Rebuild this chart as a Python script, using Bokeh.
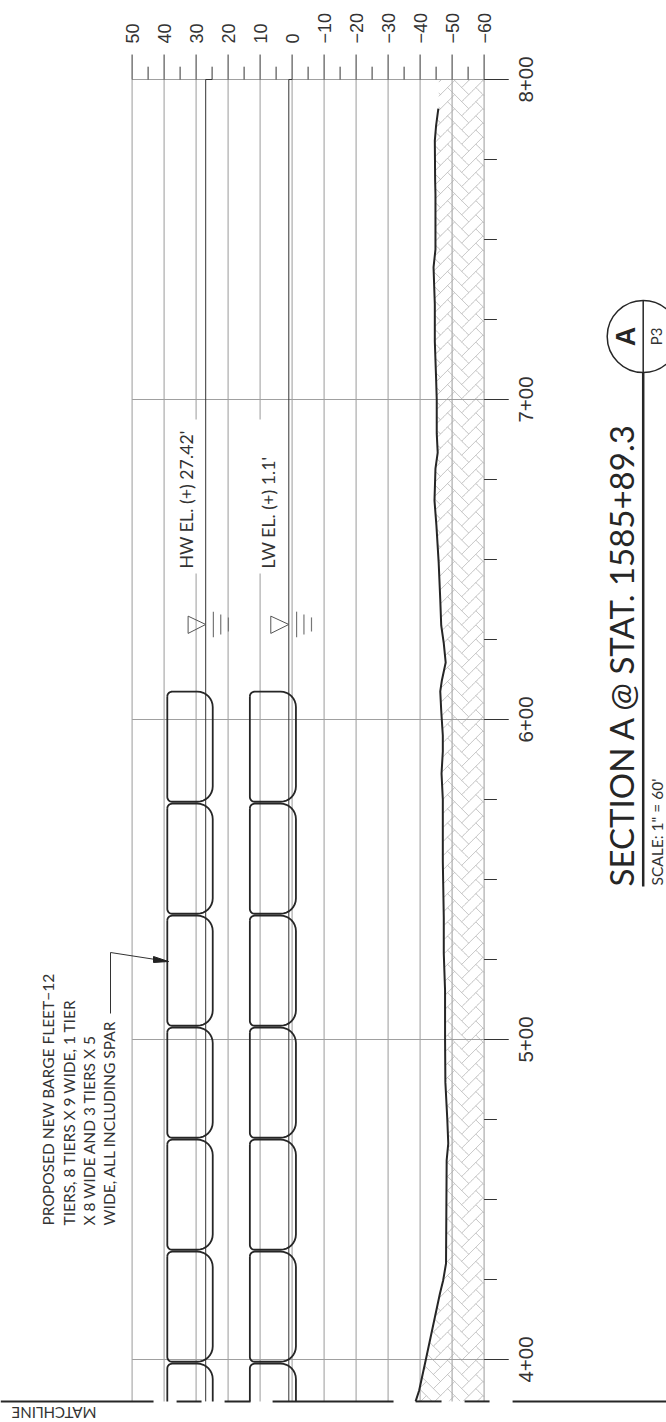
import numpy as np
from bokeh.plotting import figure
from bokeh.embed import file_html
from bokeh.resources import INLINE
from bokeh.core.properties import value

# ---- data (elevation ft, station ft) ----
elev_major = [50, 40, 30, 20, 10, 0, -10, -20, -30, -40, -50, -60]
elev_minor = [45, 35, 25, 15, 5, -5, -15, -25, -35, -45, -55]
elev_labels = ["50", "40", "30", "20", "10", "0", "\u221210", "\u221220", "\u221230", "\u221240", "\u221250", "\u221260"]
sta_major = [800, 700, 600, 500, 400]
sta_labels = ["8+00", "7+00", "6+00", "5+00", "4+00"]
sta_minor = [775, 750, 725, 675, 650, 625, 575, 550, 525, 475, 450, 425]
sta_top = 800
sta_bottom = 386.9
HW_el = 27.0
LW_el = 1.03
ground_sta = [790.9, 785.6, 780.9, 768.4, 764.1, 746.9, 741.3, 729.7, 718.1, 706.6, 700, 689.4, 683.4, 678.4, 668.4,
              660.6, 649.1, 637.5, 629.4, 623.8, 617.8, 612.2, 608.8, 602.8, 595, 590, 583.1, 575, 555.6, 538.1,
              526.9, 515.3, 500, 486.6, 475, 467.5, 462.2, 430, 424.7, 420.6, 413.1, 400, 390.3, 386.9]
ground_el = [-45.7, -45.0, -44.6, -44.7, -44.8, -44.8, -44.2, -44.6, -44.6, -45.0, -45.2, -45.2, -45.5, -44.8, -44.5,
             -45.1, -45.8, -46.3, -46.6, -47.4, -48.0, -46.8, -46.3, -46.6, -47.1, -47.1, -46.7, -47.1, -47.1, -47.4,
             -47.4, -47.8, -47.8, -47.9, -48.5, -48.8, -48.3, -48.1, -47.2, -46.2, -44.6, -41.8, -39.7, -38.6]
barge_sta = [608.7, 573.7, 538.7, 503.7, 468.7, 433.7, 398.7]
barge_len = 34.4
barge_rows = [(39.0, 24.8), (13.2, -1.2)]
break_from = [91.1, 36.1, 21.1, 6.1, -38.6, -53.9, -68.9]
break_to = [43.3, 28.3, 13.0, -31.7, -46.7, -61.7, -117.0]
note_lines = ["PROPOSED NEW BARGE FLEET\u221212", "TIERS, 8 TIERS X 9 WIDE, 1 TIER", "X 8 WIDE AND 3 TIERS X 5", "WIDE, ALL INCLUDING SPAR"]
note_el = [76.2, 69.8, 63.5, 57.2]

INK = "#262626"
GRID = "#ababab"
TXT = "#333333"
NARROW = value("Lato")
W, H = 666, 1422
PX = 3.2
x0 = 291.6
y0 = 79.0
p = figure(width=W, height=H, output_backend="svg", toolbar_location=None,
           x_range=(x0 / PX, (x0 - W) / PX), y_range=(800 - (H - y0) / PX, 800 + y0 / PX),
           min_border=0, min_border_left=0, min_border_right=0, min_border_top=0, min_border_bottom=0)
p.axis.visible = False
p.grid.visible = False
p.outline_line_color = None
p.background_fill_color = "white"
p.border_fill_color = "white"


def sy(py):
    return 800 - (py - y0) / PX


def ex(px):
    return (x0 - px) / PX


# hatch (herringbone texture, clipped to the ground)
u = 2.5 / PX
c = np.sqrt(0.5)
OX, OY = 53.0, 413.0
gs = np.array(ground_sta[::-1]); ge = np.array(ground_el[::-1])


def inside(X, Y):
    return (X <= 60) & (Y >= sta_bottom) & (Y <= sta_top) & (X >= -np.interp(Y, gs, ge))


hx, hy = [], []
for d, n, base, sgn in (((c, c), (-c, c), (0.0, 0.0), 1), ((-c, c), (-c, -c), (2.83 * u, 2.83 * u), -1)):
    d = np.array(d); n = np.array(n)
    for i in range(-200, 200):
        for j in range(-120, 120):
            s = np.array([OX, OY]) + np.array(base) + i * 4 * u * (d + sgn * n) + j * 16 * u * d
            if not (25 < s[0] < 75 and 370 < s[1] < 815):
                continue
            t = np.linspace(0, 12 * u, 40)
            X = s[0] + d[0] * t
            Y = s[1] + d[1] * t
            ok = inside(X, Y)
            if ok.sum() < 2:
                continue
            idx = np.where(ok)[0]
            hx.append(list(-X[idx])); hy.append(list(Y[idx]))
p.multi_line(hx, hy, line_color="#b9b9b9", line_width=1)

# grid
for e in elev_major:
    if e in (30, 10):
        p.segment([e, e], [sta_top, sy(573)], [e, e], [sy(419), sta_bottom], line_color=GRID, line_width=1.2)
    else:
        p.segment([e], [sta_top], [e], [sta_bottom], line_color=GRID, line_width=1.2)
p.segment([50] * 5, sta_major, [-60] * 5, sta_major, line_color="#a0a0a0", line_width=1)

# ticks
p.segment(elev_major, [sta_top] * 12, elev_major, [sta_top + 7.8] * 12, line_color=TXT, line_width=1)
p.segment(elev_minor, [sta_top] * 11, elev_minor, [sta_top + 4] * 11, line_color=TXT, line_width=1)
p.segment([-60] * 5, sta_major, [-67.7] * 5, sta_major, line_color=TXT, line_width=1)
p.segment([-60] * 12, sta_minor, [-64] * 12, sta_minor, line_color=TXT, line_width=1)
p.text(elev_major, [sy(43)] * 12, text=elev_labels, angle=np.pi / 2, text_align="left", text_baseline="middle",
       text_font=value("Liberation Sans"), text_font_size="18px", text_color=TXT)
p.text([ex(525.5)] * 5, sta_major, text=sta_labels, angle=np.pi / 2, text_align="center", text_baseline="middle",
       text_font=value("Liberation Sans"), text_font_size="20.5px", text_color=TXT)

# water lines
p.line([25, HW_el, HW_el], [sta_top, sta_top, sta_bottom], line_color=TXT, line_width=1)
p.line([0, LW_el, LW_el], [sta_top, sta_top, sta_bottom], line_color=TXT, line_width=1)
for lvl, base_el, marks in ((HW_el, 32.5, (24.6, 22.3, 19.9)), (LW_el, 6.66, (-1.4, -3.7, -6.06))):
    p.line([lvl, base_el, base_el, lvl], [629.7, 632.3, 626.9, 629.7], line_color="#555555", line_width=1)
    for mk, hl in zip(marks, (4.0, 3.1, 2.2)):
        p.segment([mk], [629.7 - hl], [mk], [629.7 + hl], line_color="#777777", line_width=1.2)
p.text([ex(185.5)], [sy(568)], text=["HW EL. (+) 27.42'"], angle=np.pi / 2, text_align="left", text_baseline="middle",
       text_font=NARROW, text_font_size="17.8px", text_color=TXT)
p.text([ex(267.8)], [sy(568)], text=["LW EL. (+) 1.1'"], angle=np.pi / 2, text_align="left", text_baseline="middle",
       text_font=NARROW, text_font_size="17.8px", text_color=TXT)

# barges
rs, rb = 1.5, 4.8
th = np.linspace(0, np.pi / 2, 9)
for hi, lo in barge_rows:
    for s in barge_sta:
        e = s - barge_len
        top_x = list(hi - rs + rs * np.cos(th)) + list(lo + rb - rb * np.sin(th))
        top_y = list(s - rs + rs * np.sin(th)) + list(s - rb + rb * np.cos(th))
        if e < sta_bottom:
            path_x = [hi] + top_x + [lo]
            path_y = [sta_bottom] + top_y + [sta_bottom]
        else:
            low_x = list(lo + rb - rb * np.cos(th)) + list(hi - rs + rs * np.sin(th))
            low_y = list(e + rb - rb * np.sin(th)) + list(e + rs - rs * np.cos(th))
            path_x = top_x + low_x + [top_x[0]]
            path_y = top_y + low_y + [top_y[0]]
        p.line(path_x, path_y, line_color=INK, line_width=1.8)

# ground
p.line(ground_el, ground_sta, line_color=INK, line_width=2)

# cut line
p.segment(break_from, [sta_bottom] * 7, break_to, [sta_bottom] * 7, line_color=INK, line_width=2)
p.text([ex(96)], [sy(1412.5)], text=["MATCHLINE"], angle=np.pi, text_align="left", text_baseline="middle",
       text_font=NARROW, text_font_size="15px", text_color=TXT)

# note
p.text(note_el, [sy(1225)] * 4, text=note_lines, angle=np.pi / 2, text_align="left", text_baseline="middle",
       text_font=NARROW, text_font_size="15.5px", text_color=TXT)
p.line([ex(110), ex(110), ex(168)], [sy(1013), sy(952), sy(961)], line_color=TXT, line_width=1)
p.patch([ex(168), ex(153), ex(153)], [sy(961), sy(956), sy(962)], color="#222222")

# title block
p.segment([ex(642.7)], [sy(886)], [ex(642.7)], [sy(372)], line_color=INK, line_width=2.5)
p.text([ex(620.5)], [sy(886)], text=["SECTION A @ STAT. 1585+89.3"], angle=np.pi / 2, text_align="left",
       text_baseline="middle", text_font=NARROW, text_font_size="33px", text_color="#262626")
p.text([ex(656.5)], [sy(885)], text=["SCALE: 1\" = 60'"], angle=np.pi / 2, text_align="left",
       text_baseline="middle", text_font=NARROW, text_font_size="15.5px", text_color=TXT)
p.circle([ex(642.7)], [sy(336)], radius=36 / PX, fill_color=None, line_color=INK, line_width=1.5)
p.segment([ex(642.7)], [sy(300)], [ex(642.7)], [sy(372)], line_color=INK, line_width=1.5)
p.text([ex(625)], [sy(336)], text=["A"], angle=np.pi / 2, text_align="center", text_baseline="middle",
       text_font=value("Liberation Sans"), text_font_style="bold", text_font_size="27px", text_color="#262626")
p.text([ex(655.5)], [sy(336)], text=["P3"], angle=np.pi / 2, text_align="center", text_baseline="middle",
       text_font=NARROW, text_font_size="15px", text_color=TXT)

open("out.html", "w").write(file_html(p, INLINE))
